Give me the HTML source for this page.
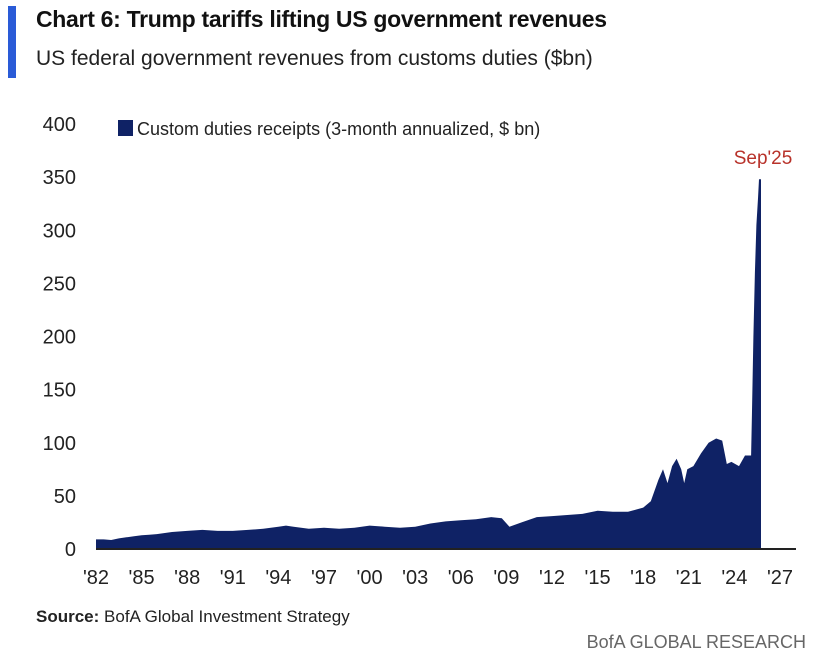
<!DOCTYPE html>
<html><head><meta charset="utf-8"><style>
body{margin:0;width:820px;height:666px;background:#fff;font-family:"Liberation Sans",sans-serif;overflow:hidden;position:relative}
.t{position:absolute;white-space:nowrap}
</style></head><body>
<div style="position:absolute;left:8px;top:6px;width:8px;height:72px;background:#2a5bd7"></div>
<div class="t" style="left:36px;top:6px;font-size:23px;font-weight:bold;color:#111;letter-spacing:-0.3px">Chart 6: Trump tariffs lifting US government revenues</div>
<div class="t" style="left:36px;top:47px;font-size:21px;color:#222">US federal government revenues from customs duties ($bn)</div>
<svg id="c" width="820" height="666" style="position:absolute;left:0;top:0"></svg>
<div class="t" style="left:36px;top:607px;font-size:17px;color:#222"><b>Source:</b> BofA Global Investment Strategy</div>
<div class="t" style="right:14px;top:632px;font-size:18px;color:#666">BofA GLOBAL RESEARCH</div>
<script>
const years=[1982,1982.5,1983,1983.5,1984,1984.5,1985,1985.5,1986,1987,1988,1989,1990,1991,1992,1993,1994,1994.5,1995,1996,1997,1998,1999,2000,2001,2002,2003,2004,2005,2006,2007,2008,2008.7,2009.2,2010,2011,2012,2013,2014,2015,2016,2017,2018,2018.5,2019.0,2019.3,2019.6,2019.9,2020.2,2020.5,2020.7,2020.9,2021.3,2021.8,2022.3,2022.8,2023.2,2023.5,2023.8,2024.3,2024.7,2024.95,2025.1,2025.15,2025.25,2025.35,2025.45,2025.55,2025.62,2025.75];
const values=[9,9,8.5,10,11,12,13,13.5,14,16,17,18,17,17,18,19,21,22,21,19,20,19,20,22,21,20,21,24,26,27,28,30,29,21,25,30,31,32,33,36,35,35,39,45,65,75,62,78,85,75,62,75,78,90,100,104,102,80,82,78,88,88,88,125,200,260,305,330,348,348];
const yTicks=[0,50,100,150,200,250,300,350,400];
const xTickYears=[1982,1985,1988,1991,1994,1997,2000,2003,2006,2009,2012,2015,2018,2021,2024,2027];
const xs=y=>96+(y-1982)*15.2, ys=v=>549-v*1.0625;
const s=document.getElementById('c'),N='http://www.w3.org/2000/svg';
function mk(t,a,txt){const e=document.createElementNS(N,t);for(const k in a)e.setAttribute(k,a[k]);if(txt!=null)e.textContent=txt;s.appendChild(e);return e;}
let d='M'+xs(years[0])+','+ys(0);
years.forEach((y,i)=>{d+=' L'+xs(y).toFixed(1)+','+ys(values[i]).toFixed(1);});
d+=' L'+xs(years[years.length-1])+','+ys(0)+' Z';
const a=mk('path',{d:d,fill:'#0f2265'});


const ax=mk('line',{x1:96,x2:796,y1:549,y2:549,stroke:'#222','stroke-width':2});


yTicks.forEach(v=>{const e=mk('text',{x:76,y:ys(v)+7,'text-anchor':'end','font-size':20,fill:'#222','font-family':'Liberation Sans'},String(v));

});
xTickYears.forEach(y=>{const e=mk('text',{x:xs(y),y:584,'text-anchor':'middle','font-size':20,fill:'#222','font-family':'Liberation Sans'},"'"+String(y).slice(2));

});
const lg=mk('rect',{x:118,y:120,width:15,height:16,fill:'#0f2265'});


const lt=mk('text',{x:137,y:135,'font-size':18,fill:'#222','font-family':'Liberation Sans'},'Custom duties receipts (3-month annualized, $ bn)');


const an=mk('text',{x:763,y:164,'text-anchor':'middle','font-size':19,fill:'#b8322a','font-family':'Liberation Sans'},"Sep'25");


</script>
</body></html>
